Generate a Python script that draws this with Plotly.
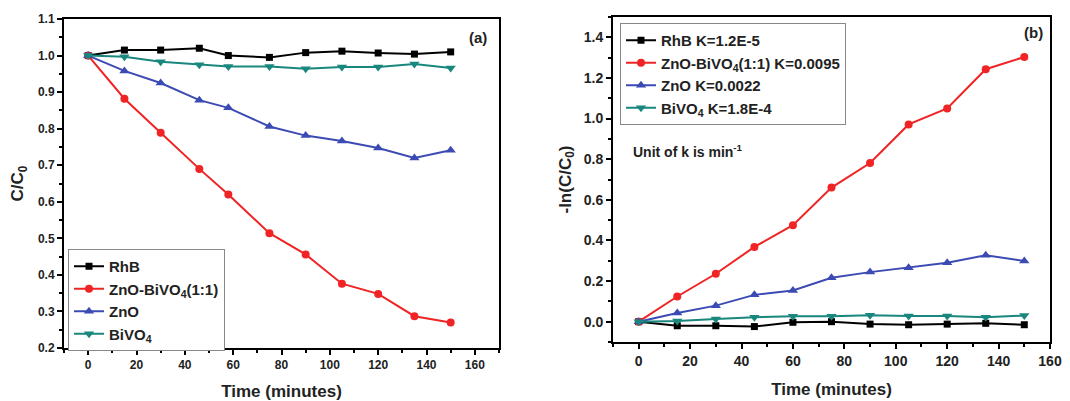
import plotly.graph_objects as go

# ---- data: panel (a) C/C0 ----
time_a = [0, 15, 30, 46, 58, 75, 90, 105, 120, 135, 150]
rhb_a = [1.0, 1.015, 1.015, 1.02, 1.0, 0.995, 1.008, 1.012, 1.007, 1.004, 1.01]
znobi_a = [1.0, 0.882, 0.789, 0.69, 0.62, 0.514, 0.456, 0.376, 0.348, 0.287, 0.27]
zno_a = [1.0, 0.958, 0.925, 0.878, 0.857, 0.806, 0.781, 0.766, 0.747, 0.72, 0.741]
bivo_a = [1.0, 0.997, 0.983, 0.975, 0.97, 0.97, 0.964, 0.969, 0.969, 0.977, 0.966]

# ---- data: panel (b) -ln(C/C0) ----
time_b = [0, 15, 30, 45, 60, 75, 90, 105, 120, 135, 150]
rhb_b = [0.0, -0.02, -0.02, -0.024, -0.003, 0.0, -0.012, -0.015, -0.012, -0.008, -0.015]
znobi_b = [0.0, 0.124, 0.236, 0.368, 0.475, 0.66, 0.781, 0.971, 1.05, 1.243, 1.303]
zno_b = [0.0, 0.043, 0.079, 0.132, 0.154, 0.216, 0.244, 0.266, 0.29, 0.327, 0.299]
bivo_b = [0.0, 0.003, 0.013, 0.022, 0.027, 0.027, 0.032, 0.028, 0.028, 0.022, 0.03]

names_a = ["RhB", "ZnO-BiVO<sub>4</sub>(1:1)", "ZnO", "BiVO<sub>4</sub>"]
names_b = ["RhB K=1.2E-5", "ZnO-BiVO<sub>4</sub>(1:1) K=0.0095", "ZnO K=0.0022",
           "BiVO<sub>4</sub> K=1.8E-4"]

colors = ["#000000", "#F02424", "#3C4BB4", "#19877D"]
symbols = ["square", "circle", "triangle-up", "triangle-down"]
msizes = [7, 8, 9, 9]

FONT = "Liberation Sans, Arial, sans-serif"
TXT = "#222"

fig = go.Figure()

for ys, nm, c, s, ms in zip([rhb_a, znobi_a, zno_a, bivo_a], names_a, colors, symbols, msizes):
    fig.add_trace(go.Scatter(x=time_a, y=ys, name=nm, mode="lines+markers",
                             line=dict(color=c, width=2),
                             marker=dict(symbol=s, size=ms, color=c),
                             xaxis="x", yaxis="y", legend="legend"))

for ys, nm, c, s, ms in zip([rhb_b, znobi_b, zno_b, bivo_b], names_b, colors, symbols, msizes):
    fig.add_trace(go.Scatter(x=time_b, y=ys, name=nm, mode="lines+markers",
                             line=dict(color=c, width=2),
                             marker=dict(symbol=s, size=ms, color=c),
                             xaxis="x2", yaxis="y2", legend="legend2"))

W, H = 1070, 401


def ax_common(size):
    return dict(showline=True, linecolor="black", linewidth=2, mirror=True,
                ticks="outside", ticklen=5, tickwidth=1.5, tickcolor="black",
                showgrid=False, zeroline=False, automargin=False,
                tickfont=dict(family=FONT, size=size, color=TXT, weight="bold"))


def minor(dt, t0):
    return dict(ticks="outside", ticklen=3, tickwidth=1.5, dtick=dt, tick0=t0,
                tickcolor="black", showgrid=False)


title_font = dict(family=FONT, size=17, color=TXT, weight="bold")

fig.update_layout(
    template="none",
    width=W, height=H, margin=dict(l=0, r=0, t=0, b=0, autoexpand=False),
    paper_bgcolor="white", plot_bgcolor="white",
    font=dict(family=FONT, color=TXT),
    xaxis=dict(domain=[64 / W, 499 / W], anchor="y", range=[-10, 170],
               tick0=0, dtick=20, minor=minor(10, 0),
               title=dict(text="Time (minutes)", standoff=16, font=title_font),
               **ax_common(12)),
    yaxis=dict(domain=[1 - 348 / H, 1 - 19 / H], anchor="x", range=[0.2, 1.1],
               tick0=0.2, dtick=0.1, tickformat=".1f", minor=minor(0.05, 0.2),
               title=dict(text="C/C<sub>0</sub>", standoff=10, font=title_font),
               **ax_common(12)),
    xaxis2=dict(domain=[613 / W, 1050 / W], anchor="y2", range=[-10, 160],
                tick0=0, dtick=20, minor=minor(10, 0),
                title=dict(text="Time (minutes)", standoff=15, font=title_font),
                **ax_common(14)),
    yaxis2=dict(domain=[1 - 342 / H, 1 - 17 / H], anchor="x2", range=[-0.1, 1.5],
                tick0=0, dtick=0.2, tickformat=".1f", minor=minor(0.1, 0),
                title=dict(text="-ln(C/C<sub>0</sub>)", standoff=8, font=title_font),
                **ax_common(14)),
    legend=dict(x=68 / W, y=1 - 249 / H, xanchor="left", yanchor="top",
                bordercolor="#888", borderwidth=1, bgcolor="white",
                font=dict(family=FONT, size=15, color=TXT, weight="bold"),
                tracegroupgap=0, itemwidth=30),
    legend2=dict(x=620 / W, y=1 - 23 / H, xanchor="left", yanchor="top",
                 bordercolor="#888", borderwidth=1, bgcolor="white",
                 font=dict(family=FONT, size=15, color=TXT, weight="bold"),
                 tracegroupgap=0, itemwidth=30),
    annotations=[
        dict(text="(a)", x=478 / W, y=1 - 37 / H, xref="paper", yref="paper",
             xanchor="center", yanchor="middle", showarrow=False,
             font=dict(family=FONT, size=15, color=TXT, weight="bold")),
        dict(text="(b)", x=1033 / W, y=1 - 32 / H, xref="paper", yref="paper",
             xanchor="center", yanchor="middle", showarrow=False,
             font=dict(family=FONT, size=15, color=TXT, weight="bold")),
        dict(text="Unit of k is min<sup>-1</sup>", x=631 / W, y=1 - 151 / H,
             xref="paper", yref="paper", xanchor="left", yanchor="middle", showarrow=False,
             font=dict(family=FONT, size=14, color=TXT, weight="bold")),
    ],
)

fig.write_html("out.html")
